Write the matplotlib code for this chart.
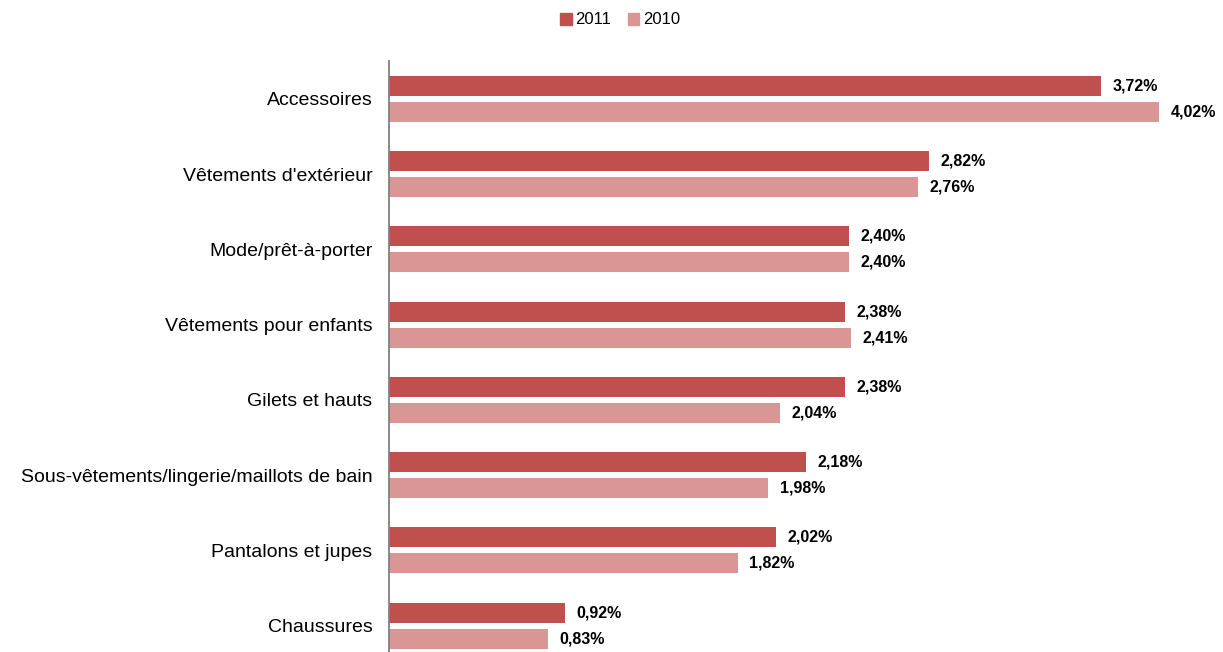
import numpy as np
import matplotlib.pyplot as plt
from matplotlib.patches import Patch

plt.rcParams['font.family'] = ['Liberation Sans', 'DejaVu Sans']

categories = ['Accessoires', "Vêtements d'extérieur", 'Mode/prêt-à-porter',
              'Vêtements pour enfants', 'Gilets et hauts',
              'Sous-vêtements/lingerie/maillots de bain', 'Pantalons et jupes',
              'Chaussures']
vals_2011 = [3.72, 2.82, 2.40, 2.38, 2.38, 2.18, 2.02, 0.92]
vals_2010 = [4.02, 2.76, 2.40, 2.41, 2.04, 1.98, 1.82, 0.83]

c2011 = '#C0504D'
c2010 = '#D99694'

fig = plt.figure(figsize=(12.23, 6.52), dpi=100)
ax = fig.add_axes([389 / 1223, 0, 1 - 389 / 1223, 1 - 61 / 652])

y = np.arange(len(categories))
h = 0.266
off = 0.173
ax.barh(y - off, vals_2011, height=h, color=c2011)
ax.barh(y + off, vals_2010, height=h, color=c2010)

def fmt(v):
    return f'{v:.2f}%'.replace('.', ',')

for i in range(len(categories)):
    ax.text(vals_2011[i] + 0.06, y[i] - off, fmt(vals_2011[i]), va='center',
            ha='left', fontsize=11.5, fontweight='bold')
    ax.text(vals_2010[i] + 0.06, y[i] + off, fmt(vals_2010[i]), va='center',
            ha='left', fontsize=11.5, fontweight='bold')

ax.set_xlim(0, (1223 - 389) / 191.5)
ax.set_ylim(7.35, -0.505)
ax.set_yticks(y)
ax.set_yticklabels(categories, fontsize=14)
ax.tick_params(axis='y', length=0, pad=12)
ax.set_xticks([])
for s in ['top', 'right', 'bottom']:
    ax.spines[s].set_visible(False)
ax.spines['left'].set_color('#808080')
ax.spines['left'].set_linewidth(1.3)

handles = [Patch(color=c2011, label='2011'), Patch(color=c2010, label='2010')]
fig.legend(handles=handles, loc='center', bbox_to_anchor=(620 / 1223, 1 - 20 / 652),
           ncol=2, frameon=False, fontsize=12, handlelength=0.7, handleheight=0.7,
           handletextpad=0.2, columnspacing=1.0)

fig.savefig('out.png', dpi=100)
